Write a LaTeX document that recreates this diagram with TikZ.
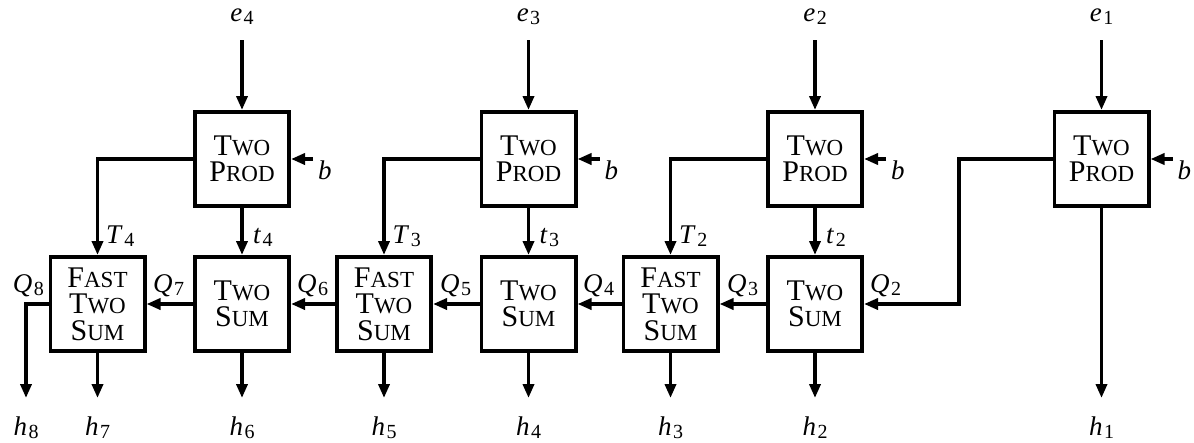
\documentclass[tikz,border=0pt]{standalone}
\usepackage{fontspec}
\setmainfont{Liberation Serif}
\usetikzlibrary{arrows.meta}
\newcommand\capsc[2]{#1{\fontsize{23}{23}\selectfont #2}}
\newcommand\ml[2]{\textit{#1}\kern1.5pt\raisebox{-3pt}{\fontsize{20}{20}\selectfont #2}}
\begin{document}
\begin{tikzpicture}[x=1pt,y=-1pt,
  blk/.style={draw,line width=3.6pt,minimum width=94.4pt,minimum height=94.4pt,inner sep=0pt,align=center,font=\fontsize{30}{26.5}\selectfont},
  wire/.style={line width=3.6pt},
  arr/.style={wire,-{Triangle[length=14pt,width=11pt]}},
  lab/.style={font=\fontsize{27}{27}\selectfont,inner sep=0pt}]
\useasboundingbox (0,0) rectangle (1194,442);
% TwoProd boxes
\node[blk] (p4) at (242,159) {\capsc{T}{WO}\\\capsc{P}{ROD}};
\node[blk] (p3) at (528.5,159) {\capsc{T}{WO}\\\capsc{P}{ROD}};
\node[blk] (p2) at (815,159) {\capsc{T}{WO}\\\capsc{P}{ROD}};
\node[blk] (p1) at (1101.5,159) {\capsc{T}{WO}\\\capsc{P}{ROD}};
% TwoSum boxes
\node[blk] (s4) at (242,304) {\capsc{T}{WO}\\\capsc{S}{UM}};
\node[blk] (s3) at (528.5,304) {\capsc{T}{WO}\\\capsc{S}{UM}};
\node[blk] (s2) at (815,304) {\capsc{T}{WO}\\\capsc{S}{UM}};
% FastTwoSum boxes
\node[blk] (f4) at (97.5,304) {\capsc{F}{AST}\\\capsc{T}{WO}\\\capsc{S}{UM}};
\node[blk] (f3) at (384,304) {\capsc{F}{AST}\\\capsc{T}{WO}\\\capsc{S}{UM}};
\node[blk] (f2) at (670.5,304) {\capsc{F}{AST}\\\capsc{T}{WO}\\\capsc{S}{UM}};
% e inputs
\foreach \n/\x in {4/242,3/528.5,2/815,1/1101.5}{
  \node[lab,anchor=base] (e\n) at (\x,21) {\ml{e}{\n}};
  \coordinate (es\n) at (\x,40);
  \draw[arr] (es\n) -- (p\n.north);
  \coordinate (bs\n) at (\x+71,159);
  \draw[arr] (bs\n) -- (p\n.east);
  \node[lab,anchor=base west] (b\n) at (\x+76,179) {\textit{b}};
}
% t and T
\foreach \n in {4,3,2}{
  \draw[arr] (p\n.south) -- (s\n.north);
  \draw[arr] (p\n.west) -| (f\n.north);
}
\node[lab,anchor=base west] (t4) at (253,243) {\ml{t}{4}};
\node[lab,anchor=base west] (t3) at (539.5,243) {\ml{t}{3}};
\node[lab,anchor=base west] (t2) at (826,243) {\ml{t}{2}};
\node[lab,anchor=base west] (T4) at (106,243) {\ml{T}{4}};
\node[lab,anchor=base west] (T3) at (392.5,243) {\ml{T}{3}};
\node[lab,anchor=base west] (T2) at (679,243) {\ml{T}{2}};
% Q chain
\draw[arr] (s4.west) -- (f4.east);
\draw[arr] (f3.west) -- (s4.east);
\draw[arr] (s3.west) -- (f3.east);
\draw[arr] (f2.west) -- (s3.east);
\draw[arr] (s2.west) -- (f2.east);
\coordinate (c1) at (959,159);
\draw[arr] (p1.west) -- (c1) |- (s2.east);
\coordinate (q8) at (26,398);
\draw[arr] (f4.west) -| (q8);
\node[lab,anchor=base east] (Q8) at (44,292) {\ml{Q}{8}};
\node[lab,anchor=base west] (Q7) at (153,292) {\ml{Q}{7}};
\node[lab,anchor=base west] (Q6) at (297,292) {\ml{Q}{6}};
\node[lab,anchor=base west] (Q5) at (440,292) {\ml{Q}{5}};
\node[lab,anchor=base west] (Q4) at (583,292) {\ml{Q}{4}};
\node[lab,anchor=base west] (Q3) at (727,292) {\ml{Q}{3}};
\node[lab,anchor=base west] (Q2) at (870,292) {\ml{Q}{2}};
% h outputs
\coordinate (hy) at (0,398);
\draw[arr] (f4.south) -- (f4.south |- hy);
\draw[arr] (s4.south) -- (s4.south |- hy);
\draw[arr] (f3.south) -- (f3.south |- hy);
\draw[arr] (s3.south) -- (s3.south |- hy);
\draw[arr] (f2.south) -- (f2.south |- hy);
\draw[arr] (s2.south) -- (s2.south |- hy);
\draw[arr] (p1.south) -- (p1.south |- hy);
\foreach \n/\x in {8/26,7/97.5,6/242,5/384,4/528.5,3/670.5,2/815,1/1101.5}{
  \node[lab,anchor=base] (h\n) at (\x,435) {\ml{h}{\n}};
}
\end{tikzpicture}
\end{document}
